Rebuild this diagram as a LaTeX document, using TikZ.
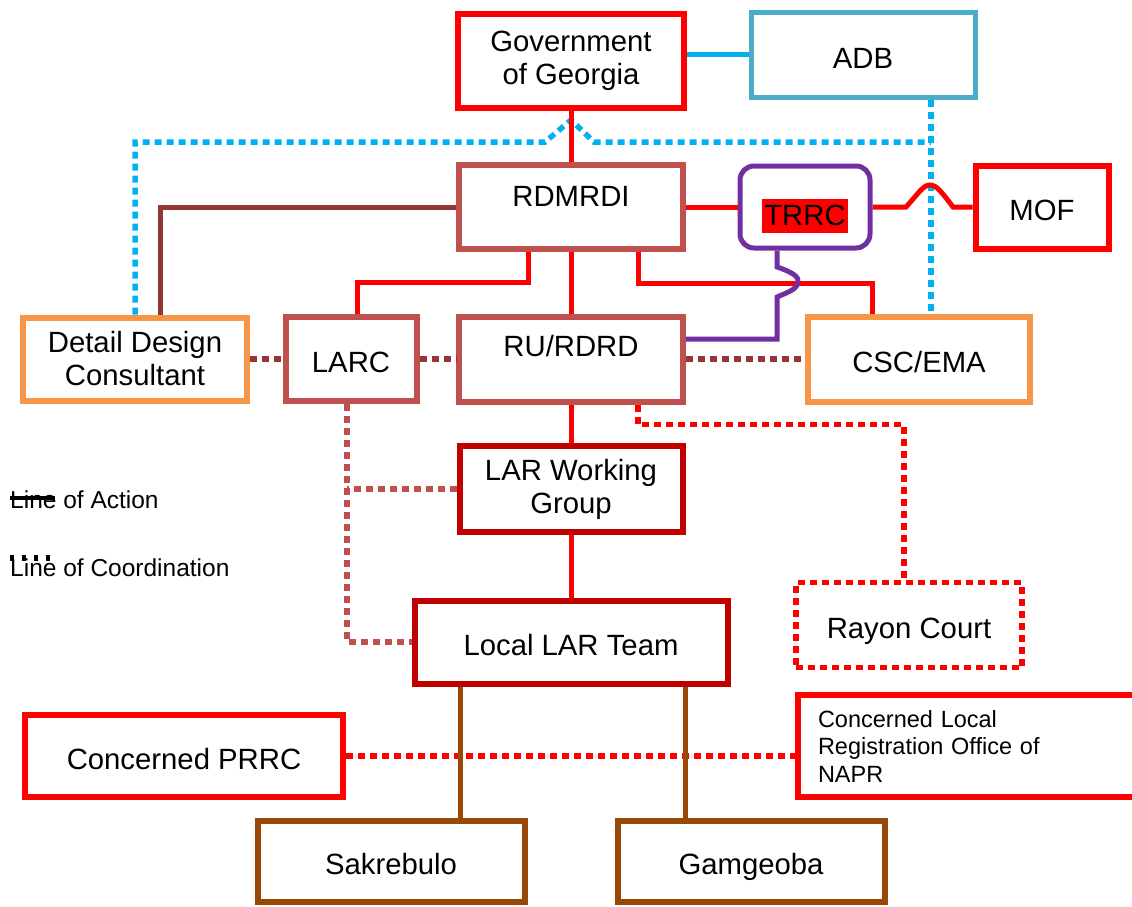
\documentclass[tikz,border=0pt]{standalone}
\usepackage{fontspec}
\setmainfont{Liberation Sans}
\definecolor{brightred}{HTML}{FF0000}
\definecolor{rosered}{HTML}{C0504D}
\definecolor{deepred}{HTML}{C00000}
\definecolor{rustbrown}{HTML}{943634}
\definecolor{earthbrown}{HTML}{984807}
\definecolor{sandorange}{HTML}{F79646}
\definecolor{skyblue}{HTML}{00B0F0}
\definecolor{steelblue}{HTML}{4BACC6}
\definecolor{trrcpurple}{HTML}{7030A0}

\begin{document}
\begin{tikzpicture}[x=1pt,y=-1pt,
  org/.style={draw,line width=6pt,minimum width=224pt,minimum height=84pt,
    inner sep=2pt,align=center,font=\fontsize{29.3}{33}\selectfont},
  one/.style={text height=31pt,text depth=3.6pt},
  legend/.style={anchor=west,inner sep=0pt,font=\fontsize{24.5}{28}\selectfont},
  action/.style={line width=5pt},
  coord/.style={line width=5.5pt,dash pattern=on 7pt off 5pt}]
  \useasboundingbox (0,0) rectangle (1132,907);

  \node[org,draw=brightred,minimum width=226pt,minimum height=94pt] (gov) at (571,61) {Government\\of Georgia};
  \node[org,one,draw=steelblue,line width=5pt] (adb) at (863,55) {ADB};
  \node[org,draw=rosered,text depth=22pt] (rdmrdi) at (571,207) {RDMRDI};
  \node[org,draw=trrcpurple,line width=5pt,rounded corners=14pt,minimum width=130pt,minimum height=82pt,
    text height=44pt,text depth=7pt] (trrc) at (805,207) {\setlength{\fboxsep}{2pt}\colorbox{brightred}{\rule[-5pt]{0pt}{30pt}TRRC}};
  \node[org,one,draw=brightred,minimum width=133pt,minimum height=83pt] (mof) at (1042,207) {MOF};
  \node[org,draw=sandorange,minimum height=83pt] (ddc) at (135,359) {Detail Design\\Consultant};
  \node[org,one,draw=rosered,minimum width=131pt] (larc) at (351,359) {LARC};
  \node[org,draw=rosered,minimum height=85pt,text depth=26pt] (rurd) at (571,359) {RU/RDRD};
  \node[org,one,draw=sandorange,minimum width=222pt,minimum height=85pt] (csc) at (919,359) {CSC/EMA};
  \node[org,draw=deepred,minimum width=223pt,minimum height=86pt] (lwg) at (571,489) {LAR Working\\Group};
  \node[org,one,draw=deepred,minimum width=313pt,minimum height=83pt] (llt) at (571,642) {Local LAR Team};
  \node[org,one,draw=brightred,coord,minimum width=226pt,minimum height=85pt] (rayon) at (909,625) {Rayon Court};
  \node[org,one,draw=brightred,minimum width=318pt,minimum height=82pt] (prrc) at (184,756) {Concerned PRRC};
  \node[org,draw=brightred,anchor=west,minimum height=102pt,text width=360pt,align=left,inner xsep=20pt,
    font=\fontsize{23.5}{27.5}\selectfont] (napr) at (795,746) {Concerned Local\\Registration Office of\\NAPR};
  \node[org,one,draw=earthbrown,minimum width=267pt,minimum height=81pt] (sak) at (391,861) {Sakrebulo};
  \node[org,one,draw=earthbrown,minimum width=267pt,minimum height=81pt] (gam) at (751,861) {Gamgeoba};
  \node[legend] (act) at (10,500) {Line of Action};
  \node[legend] (coo) at (10,568) {Line of Coordination};

  \coordinate (hub) at (931,142);
  \coordinate (hop) at (571,142);
  \coordinate (lj) at ([xshift=-4pt]larc.south);

  \draw[coord,skyblue] (adb.south -| hub) -- (csc.north -| hub);
  \draw[coord,skyblue] (ddc.north) |- ([xshift=-26pt]hop) -- ([yshift=22pt]hop) -- ([xshift=23pt]hop) -- (hub);

  \path[action,brightred]
        (gov) edge (rdmrdi)
        (rdmrdi) edge (rurd)
        (rurd) edge (lwg)
        (lwg) edge (llt)
        (rdmrdi) edge (trrc);
  \draw[action,skyblue] (gov.east |- adb.west) -- (adb.west);
  \draw[action,rustbrown] (rdmrdi.west) -| ([xshift=25pt]ddc.north);
  \draw[action,brightred] ([xshift=-43pt]rdmrdi.south) -- ++(0,30) -| ([xshift=6pt]larc.north);
  \draw[action,brightred] ([xshift=67pt]rdmrdi.south) -- ++(0,31) -| ([xshift=-47pt]csc.north);
  \draw[action,brightred] (trrc.east) -- (906,207) .. controls (918,194) and (923,185) .. (930,185)
        .. controls (937,185) and (943,194) .. (953,207) -- (mof.west);
  \draw[action,trrcpurple] ([xshift=-28pt]trrc.south) -- (777,267) .. controls (792,272) and (800,277) .. (798,283)
        .. controls (796,290) and (786,293) .. (777,297) -- (777,339) -- ([yshift=20pt]rurd.east);

  \path[coord,rustbrown]
        (ddc) edge (larc)
        (larc) edge (rurd)
        (rurd) edge (csc);
  \draw[coord,brightred] ([xshift=67pt]rurd.south) -- ++(0,20) -| ([xshift=-5pt]rayon.north);
  \draw[coord,rosered] (lj) |- (llt.west);
  \draw[coord,rosered] (lwg.west) -- (lwg.west -| lj);
  \path[coord,brightred] (prrc.east) edge (prrc.east -| napr.west);

  \path[action,earthbrown]
        ([xshift=-111pt]llt.south) edge ([xshift=69pt]sak.north)
        ([xshift=114pt]llt.south) edge ([xshift=-66pt]gam.north);

  \draw[line width=4pt] ([yshift=2pt]act.west) -- ++(45,0);
  \draw[line width=6pt,dash pattern=on 4pt off 8pt] ([yshift=10pt]coo.west) -- ++(45,0);
\end{tikzpicture}
\end{document}
